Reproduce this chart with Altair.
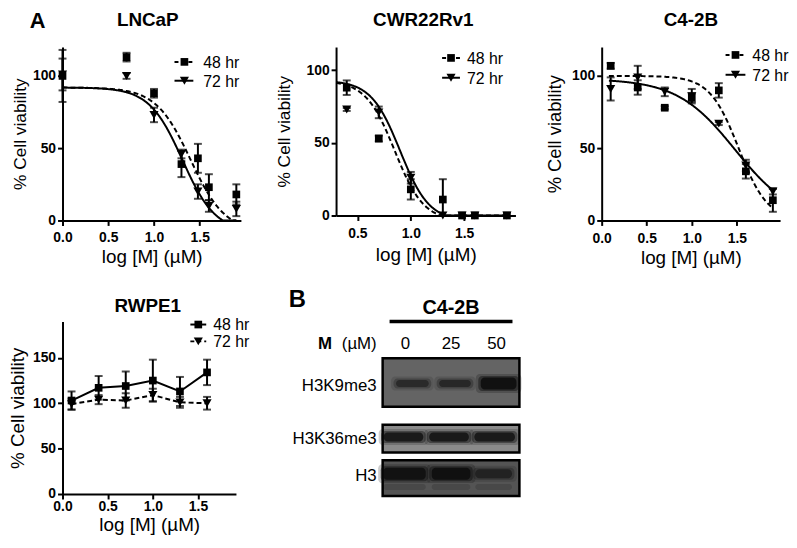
import altair as alt
import pandas as pd

FONT = "Liberation Sans"
SERIES = ["48 hr", "72 hr"]
X_TITLE = "log [M] (µM)"
Y_TITLE = "% Cell viability"

# ---------------- data ----------------
# LNCaP
lncap_x = [0.0, 0.7, 1.0, 1.3, 1.48, 1.6, 1.9]
lncap_48 = [100, 113, 88, 39, 43, 23, 18]
lncap_48_sem = [18, 3, 3, 9, 10, 9, 7]
lncap_72 = [101, 100, 73, 46, 20, 10, 8]
lncap_72_sem = [11, 2, 5, 3, 5, 4, 5]
lncap_fit_48 = [92, -8, 1.40, 2.3]      # top, bottom, logIC50, hill slope
lncap_fit_72 = [92, -8, 1.31, 2.4]

# CWR22Rv1
cwr_x = [0.4, 0.7, 1.0, 1.3, 1.48, 1.6, 1.9]
cwr_48 = [88, 53, 18, 11, 0, 0, 0]
cwr_48_sem = [5, 2, 7, 14, 0, 0, 0]
cwr_72 = [73, 71, 26, 0, 0, 0, 0]
cwr_72_sem = [1, 4, 4, 0, 0, 0, 0]
cwr_fit_48 = [93, -4, 0.85, 3.2]
cwr_fit_72 = [93, -4, 0.90, 3.2]

# C4-2B
c42b_x = [0.1, 0.4, 0.7, 1.0, 1.3, 1.6, 1.9]
c42b_48 = [107, 92, 78, 85, 90, 34, 14]
c42b_48_sem = [2, 5, 1, 3, 5, 5, 8]
c42b_72 = [91, 99, 89, 86, 67, 38, 20]
c42b_72_sem = [8, 8, 3, 5, 1, 4, 2]
c42b_fit_48 = [100, 0, 1.52, 2.7]
c42b_fit_72 = [98, 0, 1.48, 1.35]

# RWPE1
rwpe_x = [0.1, 0.4, 0.7, 1.0, 1.3, 1.6]
rwpe_48 = [103, 117, 119, 125, 113, 134]
rwpe_48_sem = [10, 13, 16, 23, 16, 14]
rwpe_72 = [99, 104, 103, 109, 101, 100]
rwpe_72_sem = [6, 5, 8, 7, 6, 7]

# Western blot (panel B)
blot_cell = "C4-2B"
blot_lanes = ["0", "25", "50"]
blot_rows = ["H3K9me3", "H3K36me3", "H3"]
blot_intensity = {
    "H3K9me3": [0.55, 0.6, 1.0],
    "H3K36me3": [0.9, 0.92, 0.9],
    "H3": [0.95, 1.0, 0.6],
}

ONE = pd.DataFrame({"a": [0]})
DASH = [5, 3]
SQ_SIZE, TRI_SIZE = 60, 85


def points_df(x, m48, s48, m72, s72):
    rows = []
    for series, m, s in ((SERIES[1], m72, s72), (SERIES[0], m48, s48)):
        for xi, mi, si in zip(x, m, s):
            rows.append({"x": xi, "y": mi, "lo": max(mi - si, 0), "hi": mi + si,
                         "sem": si, "series": series})
    return pd.DataFrame(rows)


def x_axis(ticks, lp, tp, tsize):
    return alt.Axis(values=ticks, format=".1f", title=X_TITLE, grid=False,
                    domainColor="black", domainWidth=2, tickColor="black", tickWidth=2,
                    tickSize=5, labelFont=FONT, labelFontSize=14, labelFontWeight="bold",
                    labelColor="black", labelPadding=lp, labelFlush=False, labelOverlap=False,
                    titleFont=FONT, titleFontSize=tsize, titleFontWeight="normal",
                    titleColor="black", titlePadding=tp)


def y_axis(ticks, tp, tsize):
    return alt.Axis(values=ticks, format="d", title=Y_TITLE, grid=False,
                    domainColor="black", domainWidth=2, tickColor="black", tickWidth=2,
                    tickSize=5, labelFont=FONT, labelFontSize=14, labelFontWeight="bold",
                    labelColor="black", labelPadding=2, labelFlush=False, labelOverlap=False,
                    minExtent=30, maxExtent=30,
                    titleFont=FONT, titleFontSize=tsize, titleFontWeight="normal",
                    titleColor="black", titlePadding=tp)


def anchor(xv, yv):
    # invisible point that fixes the panel's outer bounds in the concat layout
    return alt.Chart(ONE).mark_rule(opacity=0, strokeWidth=0.5).encode(
        x=alt.value(xv), x2=alt.value(xv), y=alt.value(yv), y2=alt.value(yv))


def panel(c):
    df = points_df(*c["data"])
    xs = alt.Scale(domain=c["xdom"], nice=False, zero=False)
    ys = alt.Scale(domain=c["ydom"], nice=False, zero=False)
    xa = x_axis(c["xticks"], c["xlp"], c["xtp"], c["xts"])
    ya = y_axis(c["yticks"], c["ytp"], c["yts"])
    dashes = {SERIES[0]: c["dash48"], SERIES[1]: c["dash72"]}
    layers = []

    if c.get("fits"):
        x0, x1 = c["curve_range"]
        for series, fit in zip(SERIES, c["fits"]):
            top, bottom, lic50, hill = fit
            mk = dict(color="black", strokeWidth=2)
            if dashes[series]:
                mk["strokeDash"] = dashes[series]
            layers.append(
                alt.Chart(alt.sequence(x0, x1 + 0.0025, 0.005, as_="x"))
                .transform_calculate(
                    y=f"max({bottom} + ({top} - ({bottom})) / (1 + pow(10, (datum.x - {lic50}) * {hill})), 0)")
                .mark_line(**mk)
                .encode(x=alt.X("x:Q", scale=xs, axis=xa), y=alt.Y("y:Q", scale=ys, axis=ya)))
    else:
        for series in SERIES:
            mk = dict(color="black", strokeWidth=2)
            if dashes[series]:
                mk["strokeDash"] = dashes[series]
            layers.append(
                alt.Chart(df).transform_filter(alt.datum.series == series)
                .mark_line(**mk)
                .encode(x=alt.X("x:Q", scale=xs, axis=xa), y=alt.Y("y:Q", scale=ys, axis=ya)))

    err = alt.Chart(df).transform_filter(alt.datum.sem > 0)
    layers.append(err.mark_rule(color="black", strokeWidth=2).encode(
        x=alt.X("x:Q", scale=xs, axis=xa), y=alt.Y("lo:Q", scale=ys, axis=ya), y2="hi:Q"))
    layers.append(err.transform_fold(["lo", "hi"], as_=["end", "v"])
                  .mark_tick(color="black", orient="horizontal", size=8, thickness=2)
                  .encode(x=alt.X("x:Q", scale=xs, axis=xa), y=alt.Y("v:Q", scale=ys, axis=ya)))
    layers.append(alt.Chart(df).mark_point(filled=True, opacity=1, color="black").encode(
        x=alt.X("x:Q", scale=xs, axis=xa), y=alt.Y("y:Q", scale=ys, axis=ya),
        shape=alt.Shape("series:N", scale=alt.Scale(domain=SERIES, range=["square", "triangle-down"]), legend=None),
        size=alt.Size("series:N", scale=alt.Scale(domain=SERIES, range=[SQ_SIZE, TRI_SIZE]), legend=None)))

    # legend (drawn in the GraphPad style)
    lx1, lx2, lxm, ltx, ly = c["legend"]
    for i, series in enumerate(SERIES):
        mk = dict(color="black", strokeWidth=2)
        if dashes[series]:
            mk["strokeDash"] = [4, 3]
        layers.append(alt.Chart(ONE).mark_rule(**mk).encode(
            x=alt.value(lx1), x2=alt.value(lx2), y=alt.value(ly[i]), y2=alt.value(ly[i])))
        layers.append(alt.Chart(ONE).mark_point(
            filled=True, opacity=1, color="black",
            shape="square" if i == 0 else "triangle-down",
            size=SQ_SIZE if i == 0 else TRI_SIZE).encode(
            x=alt.value(lxm), y=alt.value(ly[i])))
        layers.append(alt.Chart(ONE).mark_text(
            font=FONT, fontSize=16, align="left", baseline="middle", color="black").encode(
            x=alt.value(ltx), y=alt.value(ly[i] + 1), text=alt.value(series)))

    tx, ty = c["title_pos"]
    layers.append(alt.Chart(ONE).mark_text(
        font=FONT, fontSize=19, fontWeight="bold", align="center", baseline="alphabetic",
        color="black").encode(x=alt.value(tx), y=alt.value(ty), text=alt.value(c["name"])))
    if c.get("letter"):
        lt, lxx, lyy = c["letter"]
        layers.append(alt.Chart(ONE).mark_text(
            font=FONT, fontSize=22, fontWeight="bold", align="center", baseline="alphabetic",
            color="black").encode(x=alt.value(lxx), y=alt.value(lyy), text=alt.value(lt)))
    for a in c["anchors"]:
        layers.append(anchor(*a))
    return alt.layer(*layers).properties(width=c["w"], height=c["h"])


p1 = panel(dict(
    name="LNCaP", data=(lncap_x, lncap_48, lncap_48_sem, lncap_72, lncap_72_sem),
    fits=(lncap_fit_48, lncap_fit_72), curve_range=(0.0, 1.9),
    xdom=[0, 1.95], ydom=[0, 120], xticks=[0, 0.5, 1.0, 1.5], yticks=[0, 50, 100],
    w=180, h=175, xlp=5, xtp=3, xts=19, ytp=3, yts=17.5,
    dash48=DASH, dash72=None, legend=(113, 132, 123, 142, (15, 34)),
    title_pos=(86, -21), letter=("A", -25, -19),
    anchors=[(-51, -37), (186, 230)]))

p2 = panel(dict(
    name="CWR22Rv1", data=(cwr_x, cwr_48, cwr_48_sem, cwr_72, cwr_72_sem),
    fits=(cwr_fit_48, cwr_fit_72), curve_range=(0.3, 1.9),
    xdom=[0.3, 1.98], ydom=[0, 116], xticks=[0.5, 1.0, 1.5], yticks=[0, 50, 100],
    w=181, h=170, xlp=6, xtp=5, xts=19, ytp=13, yts=17.5,
    dash48=DASH, dash72=None, legend=(107, 125, 116, 132, (11, 31)),
    title_pos=(88, -21),
    anchors=[(-90, -37), (188, 200)]))

p3 = panel(dict(
    name="C4-2B", data=(c42b_x, c42b_48, c42b_48_sem, c42b_72, c42b_72_sem),
    fits=(c42b_fit_48, c42b_fit_72), curve_range=(0.08, 1.9),
    xdom=[0, 1.98], ydom=[0, 120], xticks=[0, 0.5, 1.0, 1.5], yticks=[0, 50, 100],
    w=180, h=175, xlp=6, xtp=3, xts=19, ytp=8, yts=18.5,
    dash48=DASH, dash72=None, legend=(125, 145, 135, 152, (8, 28)),
    title_pos=(90, -21),
    anchors=[(-80, -37)]))

p4 = panel(dict(
    name="RWPE1", data=(rwpe_x, rwpe_48, rwpe_48_sem, rwpe_72, rwpe_72_sem),
    fits=None,
    xdom=[0, 1.92], ydom=[0, 190], xticks=[0, 0.5, 1.0, 1.5], yticks=[0, 50, 100, 150],
    w=175, h=174, xlp=1, xtp=2, xts=19, ytp=5, yts=19,
    dash48=None, dash72=DASH, legend=(129, 145, 137, 152, (3, 20)),
    title_pos=(86, -10),
    anchors=[(-55, -47), (222, 0)]))

# ---------------- panel B: western blot ----------------
# geometry of the blot photograph, in page pixels
BOX_Y = {"H3K9me3": (359, 408), "H3K36me3": (426, 454), "H3": (462, 498)}
BOX_FILL = {"H3K9me3": "#646464", "H3K36me3": "#8a8a8a", "H3": "#545454"}
LABEL_Y = {"H3K9me3": 387, "H3K36me3": 441, "H3": 478}
BAND_GEOM = {  # centre y, heights, centre x, widths
    "H3K9me3": (384.5, [7, 7, 12], [416, 459, 503], [33, 32, 36]),
    "H3K36me3": (438.5, [9, 9, 9], [407, 453, 499], [40, 40, 41]),
    "H3": (475.5, [12, 12, 9], [408, 455, 498], [43, 39, 37]),
}
LANE_X = [409, 455, 501]

box_df = pd.DataFrame({
    "row": blot_rows,
    "x1": [386] * 3, "x2": [524] * 3,
    "y1": [BOX_Y[r][0] for r in blot_rows], "y2": [BOX_Y[r][1] for r in blot_rows],
    "fill": [BOX_FILL[r] for r in blot_rows]})

band_rows = []
for r in blot_rows:
    cy, hs, cxs, ws = BAND_GEOM[r]
    for lane, inten, h, cx, w in zip(blot_lanes, blot_intensity[r], hs, cxs, ws):
        for ex, ey, f in ((5, 3.5, 0.22), (2.5, 1.5, 0.45), (0, 0, 0.8)):
            band_rows.append({"row": r, "lane": lane,
                              "x1": cx - w / 2 - ex, "x2": cx + w / 2 + ex,
                              "y1": cy - h / 2 - ey, "y2": cy + h / 2 + ey,
                              "op": f * inten})
    if r == "H3":
        for cx, w in zip(cxs, ws):
            band_rows.append({"row": r, "lane": "", "x1": cx - w / 2, "x2": cx + w / 2,
                              "y1": 486, "y2": 492, "op": 0.15})
band_df = pd.DataFrame(band_rows)

# the blot panel's plot area spans x 285..530 and y 322..496 on the page
bx = alt.Scale(domain=[285, 530], nice=False, zero=False)
by = alt.Scale(domain=[322, 496], nice=False, zero=False, reverse=True)


def bX(f):
    return alt.X(f, scale=bx, axis=None)


def bY(f):
    return alt.Y(f, scale=by, axis=None)


blot_layers = [
    alt.Chart(box_df).mark_rect(stroke="black", strokeWidth=2.5).encode(
        x=bX("x1:Q"), x2="x2:Q", y=bY("y1:Q"), y2="y2:Q",
        fill=alt.Fill("fill:N", scale=None)),
    alt.Chart(band_df).mark_rect(color="#0a0a0a", cornerRadius=4).encode(
        x=bX("x1:Q"), x2="x2:Q", y=bY("y1:Q"), y2="y2:Q",
        opacity=alt.Opacity("op:Q", scale=None)),
    alt.Chart(pd.DataFrame({"row": blot_rows, "x": [380] * 3,
                            "y": [LABEL_Y[r] for r in blot_rows]}))
    .mark_text(font=FONT, fontSize=17, align="right", baseline="middle", color="black")
    .encode(x=bX("x:Q"), y=bY("y:Q"), text="row:N"),
    alt.Chart(pd.DataFrame({"lane": blot_lanes, "x": LANE_X, "y": [345] * 3}))
    .mark_text(font=FONT, fontSize=17, align="center", baseline="middle", color="black")
    .encode(x=bX("x:Q"), y=bY("y:Q"), text="lane:N"),
    alt.Chart(pd.DataFrame({"t": ["(µM)"], "x": [380], "y": [345]}))
    .mark_text(font=FONT, fontSize=17, align="right", baseline="middle", color="black")
    .encode(x=bX("x:Q"), y=bY("y:Q"), text="t:N"),
    alt.Chart(pd.DataFrame({"t": ["M"], "x": [335], "y": [345]}))
    .mark_text(font=FONT, fontSize=17, fontWeight="bold", align="right", baseline="middle", color="black")
    .encode(x=bX("x:Q"), y=bY("y:Q"), text="t:N"),
    alt.Chart(pd.DataFrame({"t": [blot_cell], "x": [455], "y": [314]}))
    .mark_text(font=FONT, fontSize=20, fontWeight="bold", align="center", baseline="alphabetic", color="black")
    .encode(x=bX("x:Q"), y=bY("y:Q"), text="t:N"),
    alt.Chart(pd.DataFrame({"x1": [393], "x2": [517], "y": [322]}))
    .mark_rule(color="black", strokeWidth=3.5)
    .encode(x=bX("x1:Q"), x2="x2:Q", y=bY("y:Q")),
    alt.Chart(pd.DataFrame({"t": ["B"], "x": [300], "y": [307]}))
    .mark_text(font=FONT, fontSize=24, fontWeight="bold", align="center", baseline="alphabetic", color="black")
    .encode(x=bX("x:Q"), y=bY("y:Q"), text="t:N"),
]
blot = alt.layer(*blot_layers).properties(width=245, height=174)

row1 = alt.hconcat(p1, p2, p3, spacing=0)
row2 = alt.hconcat(p4, blot, spacing=0)
chart = (alt.vconcat(row1, row2, spacing=0)
         .properties(padding=0, background="white")
         .configure_view(stroke=None))

chart.save("out.html", embed_options={"renderer": "svg", "actions": False})
